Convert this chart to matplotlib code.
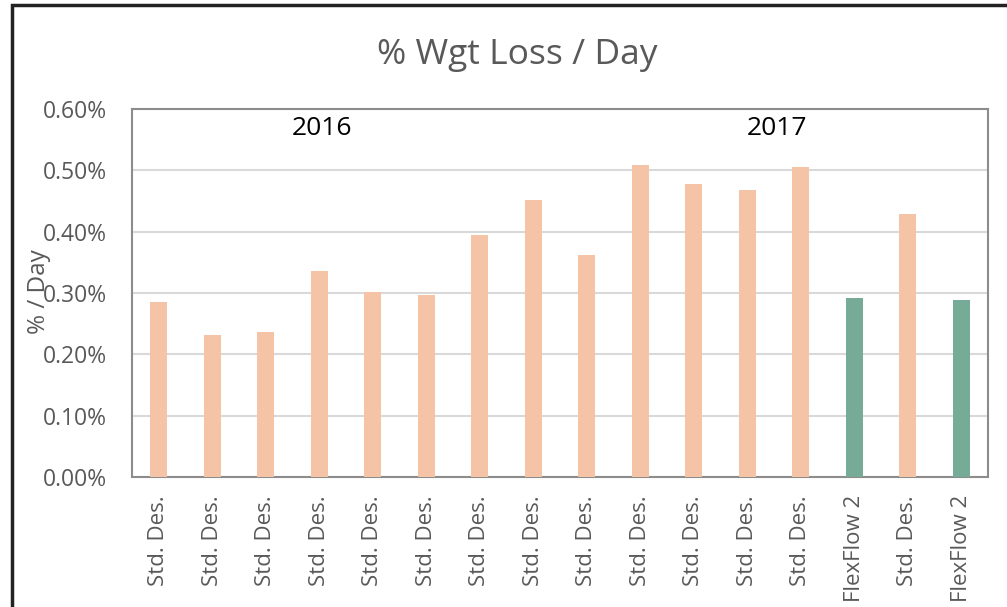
import matplotlib
matplotlib.use("Agg")
import matplotlib.pyplot as plt
from matplotlib.patches import Rectangle
from matplotlib.ticker import PercentFormatter

categories = ["Std. Des."] * 13 + ["FlexFlow 2", "Std. Des.", "FlexFlow 2"]
values = [0.285, 0.232, 0.236, 0.336, 0.302, 0.297, 0.395, 0.452, 0.362,
          0.509, 0.478, 0.468, 0.506, 0.292, 0.428, 0.288]
peach = "#F5C3A6"
green = "#76AB97"
colors = [green if c.startswith("FlexFlow") else peach for c in categories]

plt.rcParams["font.family"] = ["Open Sans", "DejaVu Sans"]
grey = "#595959"

fig = plt.figure(figsize=(10.07, 6.07), dpi=100)
ax = fig.add_axes([132 / 1007, 130 / 607, 856 / 1007, 368 / 607])

x = range(len(values))
ax.bar(x, values, width=0.32, color=colors, zorder=3)

ax.set_xlim(-0.5, len(values) - 0.5)
ax.set_ylim(0, 0.6)
ax.set_yticks([0, 0.1, 0.2, 0.3, 0.4, 0.5, 0.6])
ax.yaxis.set_major_formatter(PercentFormatter(decimals=2))
ax.set_xticks(list(x))
ax.set_xticklabels(categories, rotation=90, va="top", ha="center")
ax.tick_params(axis="both", length=0, colors=grey, labelsize=16.5)
ax.tick_params(axis="x", pad=13, labelsize=16)
ax.tick_params(axis="y", pad=18)
ax.grid(axis="y", color="#D9D9D9", linewidth=1.5, zorder=0)
for s in ax.spines.values():
    s.set_color("#8C8C8C")
    s.set_linewidth(1.5)

fig.text(39 / 1007, 1 - 292 / 607, "% / Day", rotation=90, ha="center",
         va="center", fontsize=17.5, color=grey)
fig.text(517 / 1007, 1 - 55 / 607, "% Wgt Loss / Day", ha="center",
         va="center", fontsize=25.5, color=grey)
ax.text(3.05, 0.568, "2016", ha="center", va="center", fontsize=19, color="black")
ax.text(11.56, 0.568, "2017", ha="center", va="center", fontsize=19, color="black")

# outer frame (left and top visible)
fig.patches.append(Rectangle((12 / 1007, -0.1), 1.2, 1 - 5 / 607 + 0.1,
                             transform=fig.transFigure, fill=False,
                             edgecolor="#222222", linewidth=2.5))

fig.savefig("out.png", dpi=100)
